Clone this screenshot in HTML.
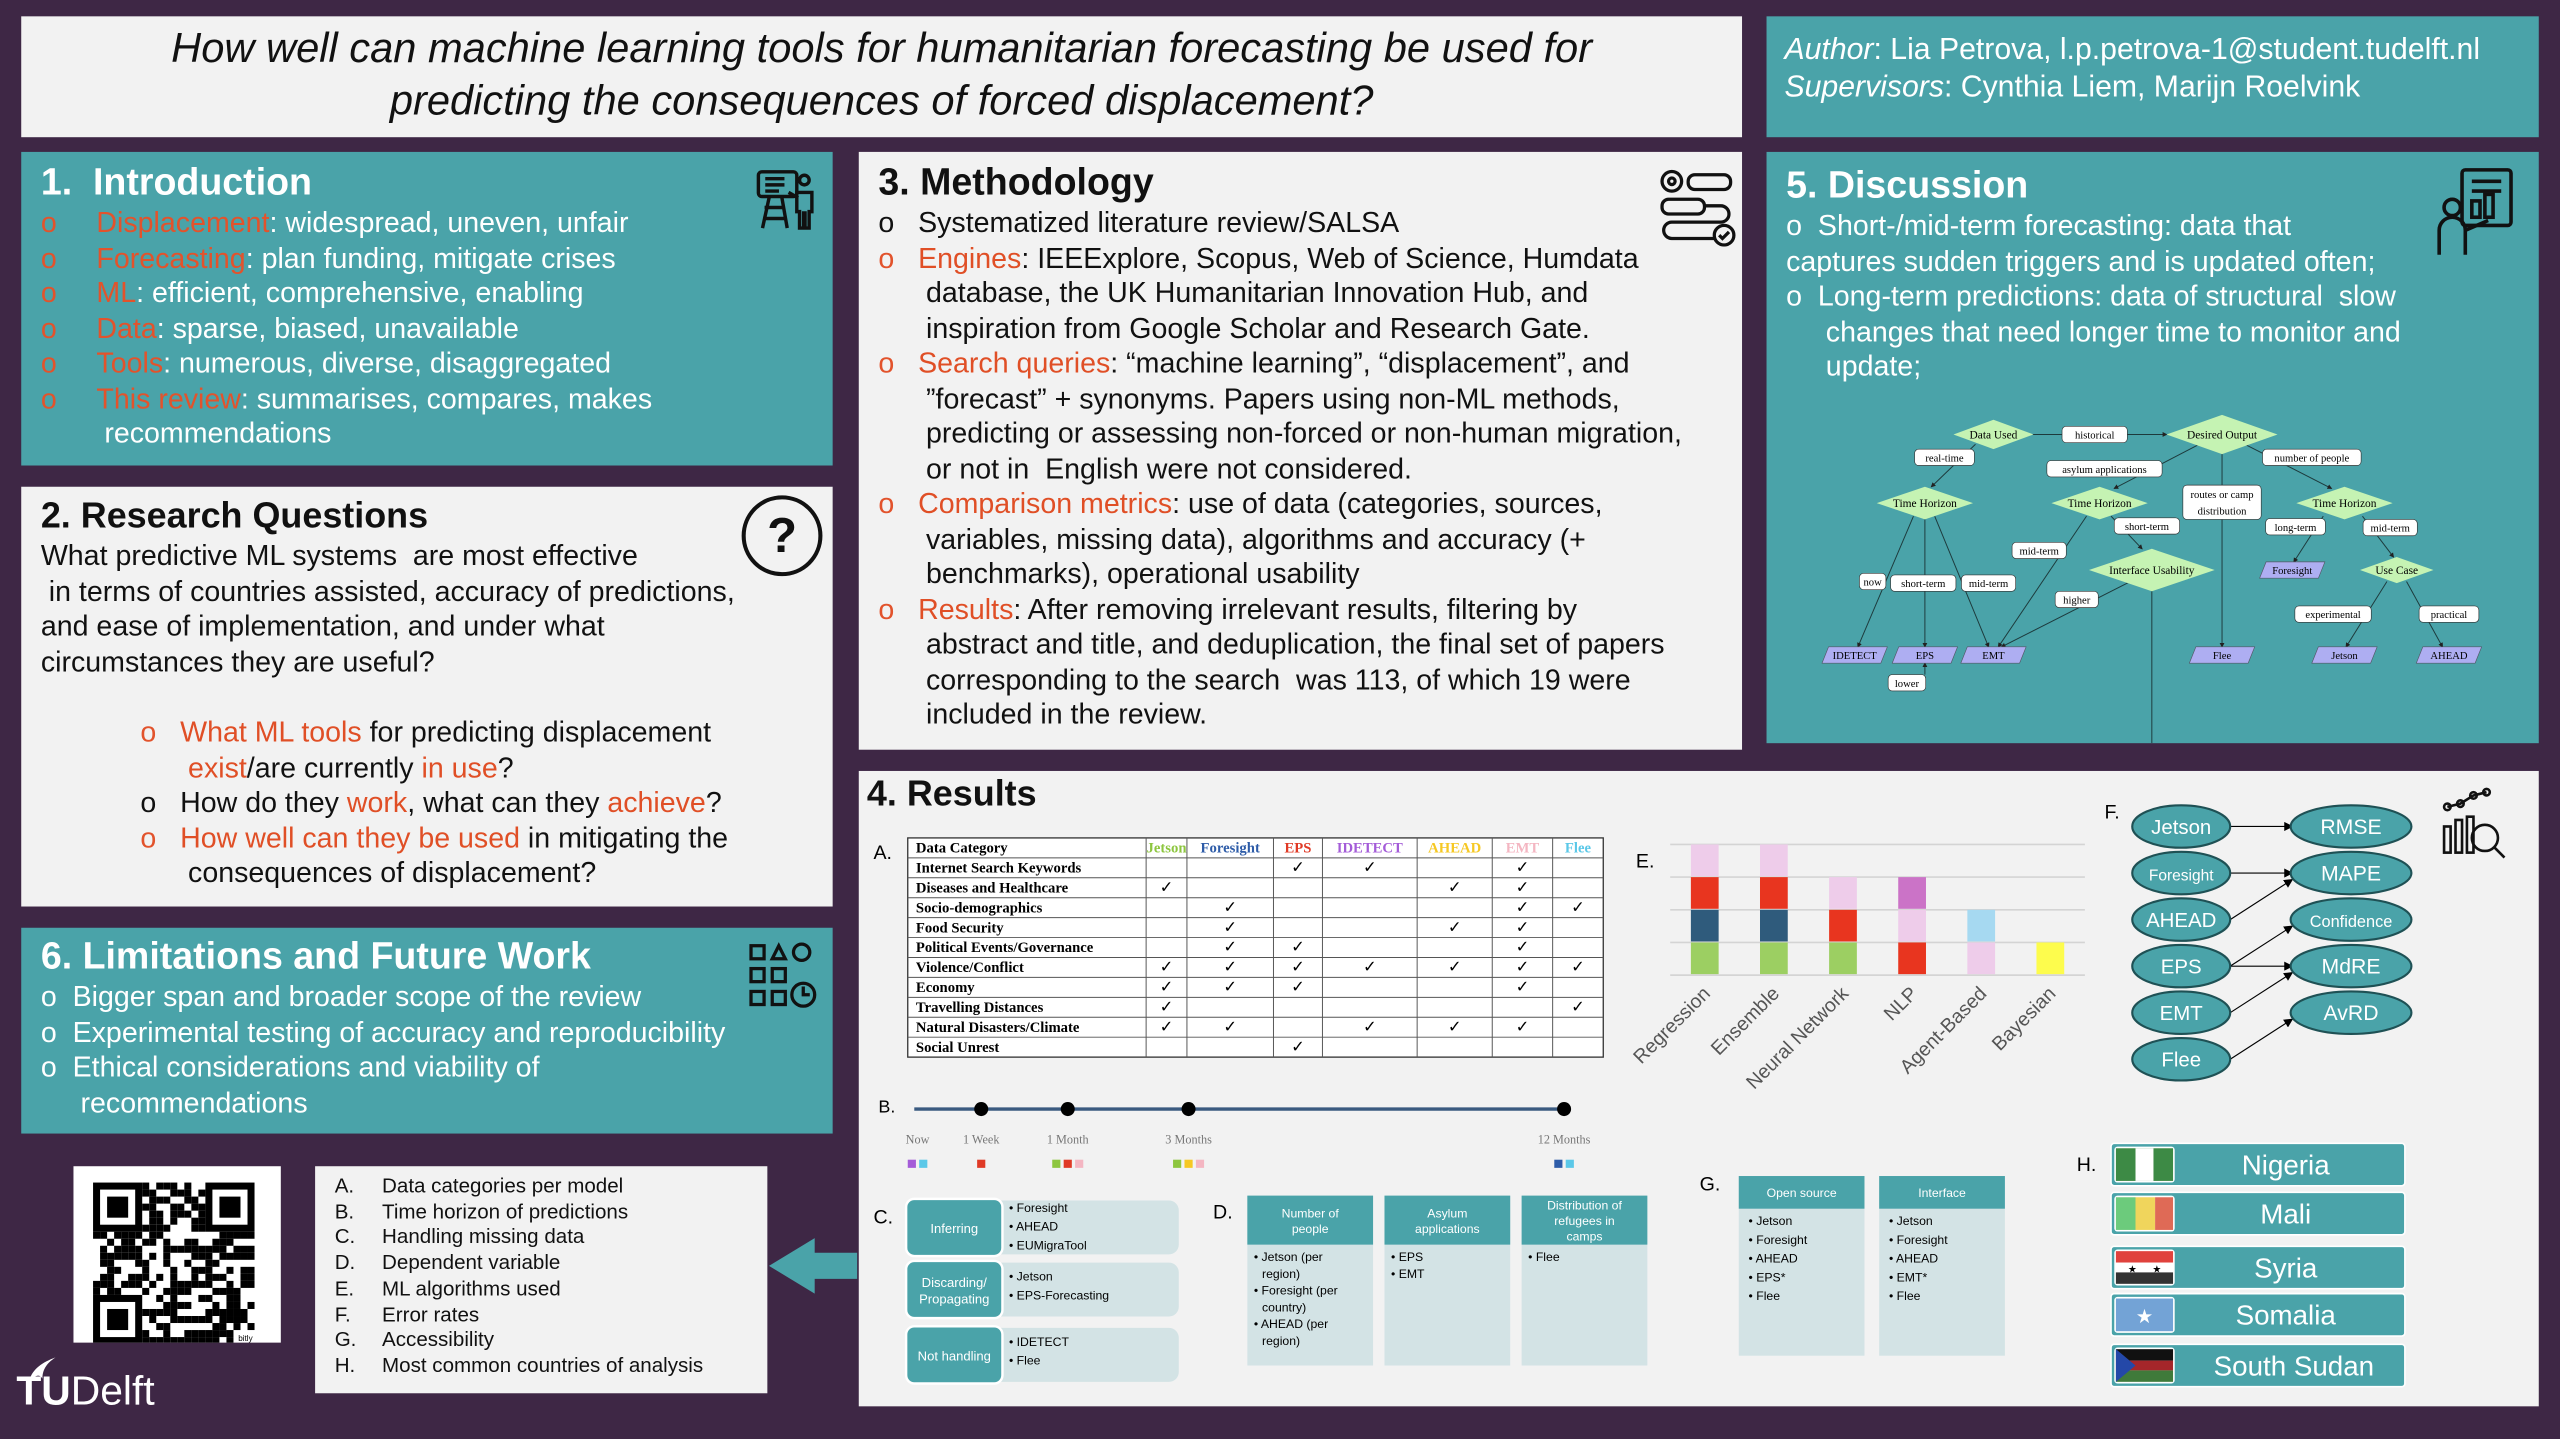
<!DOCTYPE html>
<html><head><meta charset="utf-8">
<style>
html,body{margin:0;padding:0;width:2560px;height:1439px;overflow:hidden;background:#3e2745;}
#s{position:absolute;left:0;top:0;width:1568px;height:881px;transform:scale(1.63265,1.63337);transform-origin:0 0;font-family:"Liberation Sans",sans-serif;}
.p{position:absolute;}
.teal{background:#4aa3a9;color:#fff;}
.light{background:#f2f2f2;color:#111;}
.h{position:absolute;font-weight:bold;white-space:nowrap;}
.t{position:absolute;white-space:nowrap;font-size:17.5px;line-height:21.5px;}
.o{color:#e2532c}
.k{color:#e2532c}
.ot{color:#e04f26}
</style></head><body>
<div id="s">

<div class="p light" style="left:13px;top:10px;width:1054px;height:74px;">
  <div style="position:absolute;left:0;top:4px;width:1054px;text-align:center;font-style:italic;font-size:25.5px;line-height:32px;">How well can machine learning tools for humanitarian forecasting be used for<br>predicting the consequences of forced displacement?</div>
</div>
<div class="p teal" style="left:1082px;top:10px;width:473px;height:74px;">
  <div style="position:absolute;left:11px;top:8px;font-size:18.5px;line-height:23px;white-space:nowrap;"><i>Author</i>: Lia Petrova, l.p.petrova-1@student.tudelft.nl<br><i>Supervisors</i>: Cynthia Liem, Marijn Roelvink</div>
</div>

<div class="p teal" style="left:13px;top:93px;width:497px;height:192px;">
  <div class="h" style="left:12px;top:5px;font-size:23px;">1.&nbsp; Introduction</div>
  <div class="t" style="left:12px;top:33px;">
    <span class="o">o</span>&nbsp;&nbsp;&nbsp;&nbsp;&nbsp;<span class="k">Displacement</span>: widespread, uneven, unfair<br>
    <span class="o">o</span>&nbsp;&nbsp;&nbsp;&nbsp;&nbsp;<span class="k">Forecasting</span>: plan funding, mitigate crises<br>
    <span class="o">o</span>&nbsp;&nbsp;&nbsp;&nbsp;&nbsp;<span class="k">ML</span>: efficient, comprehensive, enabling<br>
    <span class="o">o</span>&nbsp;&nbsp;&nbsp;&nbsp;&nbsp;<span class="k">Data</span>: sparse, biased, unavailable<br>
    <span class="o">o</span>&nbsp;&nbsp;&nbsp;&nbsp;&nbsp;<span class="k">Tools</span>: numerous, diverse, disaggregated<br>
    <span class="o">o</span>&nbsp;&nbsp;&nbsp;&nbsp;&nbsp;<span class="k">This review</span>: summarises, compares, makes<br>
    &nbsp;&nbsp;&nbsp;&nbsp;&nbsp;&nbsp;&nbsp;&nbsp;recommendations</div>
  <svg style="position:absolute;left:449px;top:8px" width="42" height="42" viewBox="0 0 100 100" fill="none" stroke="#111" stroke-width="5">
    <rect x="6" y="10" width="56" height="36" rx="5"/><line x1="16" y1="20" x2="44" y2="20"/><line x1="16" y1="29" x2="44" y2="29"/><line x1="16" y1="38" x2="36" y2="38"/>
    <line x1="22" y1="46" x2="12" y2="92"/><line x1="40" y1="46" x2="48" y2="92"/><line x1="15" y1="62" x2="44" y2="62"/><line x1="13" y1="78" x2="46" y2="78"/>
    <circle cx="73" cy="22" r="7"/><path d="M62 40h22v28h-4v24h-6v-22h-2v22h-6v-24h-4z"/><line x1="64" y1="48" x2="50" y2="40"/>
  </svg>
</div>

<div class="p light" style="left:13px;top:298px;width:497px;height:257px;">
  <div class="h" style="left:12px;top:5px;font-size:22px;">2. Research Questions</div>
  <div class="t" style="left:12px;top:32px;">What predictive ML systems&nbsp; are most effective<br>&nbsp;in terms of countries assisted, accuracy of predictions,<br>and ease of implementation, and under what<br>circumstances they are useful?</div>
  <div class="t" style="left:73px;top:140px;">
    <span class="o">o</span>&nbsp;&nbsp;&nbsp;<span class="ot">What ML tools</span> for predicting displacement<br>
    &nbsp;&nbsp;&nbsp;&nbsp;&nbsp;&nbsp;<span class="ot">exist</span>/are currently <span class="ot">in use</span>?<br>
    o&nbsp;&nbsp;&nbsp;How do they <span class="ot">work</span>, what can they <span class="ot">achieve</span>?<br>
    <span class="o">o</span>&nbsp;&nbsp;&nbsp;<span class="ot">How well can they be used</span> in mitigating the<br>
    &nbsp;&nbsp;&nbsp;&nbsp;&nbsp;&nbsp;consequences of displacement?</div>
  <svg style="position:absolute;left:440px;top:4px" width="52" height="52" viewBox="0 0 52 52">
    <circle cx="26" cy="26" r="23.5" fill="none" stroke="#111" stroke-width="2.5"/>
    <text x="26" y="36" text-anchor="middle" font-family="Liberation Sans" font-weight="bold" font-size="30" fill="#111">?</text>
  </svg>
</div>

<div class="p teal" style="left:13px;top:568px;width:497px;height:126px;">
  <div class="h" style="left:12px;top:4px;font-size:23px;">6. Limitations and Future Work</div>
  <div class="t" style="left:12px;top:32px;">o&nbsp;&nbsp;Bigger span and broader scope of the review<br>o&nbsp;&nbsp;Experimental testing of accuracy and reproducibility<br>o&nbsp;&nbsp;Ethical considerations and viability of<br>&nbsp;&nbsp;&nbsp;&nbsp;&nbsp;recommendations</div>
  <svg style="position:absolute;left:445px;top:8px" width="44" height="44" viewBox="0 0 44 44" fill="none" stroke="#111" stroke-width="2">
    <rect x="2" y="3" width="8" height="8"/><rect x="2" y="17" width="8" height="8"/><rect x="2" y="31" width="8" height="8"/><rect x="15" y="17" width="8" height="8"/>
    <path d="M15 11l4-8 4 8z"/><circle cx="33" cy="7" r="5"/><circle cx="34" cy="33" r="7"/><path d="M34 28v5h4"/><rect x="15" y="31" width="8" height="8"/>
  </svg>
</div>

<div class="p" style="left:45px;top:714px;width:127px;height:108px;background:#fff;">
  <svg id="qr" width="127" height="108"></svg>
</div>
<div class="p light" style="left:193px;top:714px;width:277px;height:139px;">
  <div style="position:absolute;left:12px;top:5px;font-size:12.6px;line-height:15.7px;white-space:nowrap;">
    <span style="display:inline-block;width:29px">A.</span>Data categories per model<br>
    <span style="display:inline-block;width:29px">B.</span>Time horizon of predictions<br>
    <span style="display:inline-block;width:29px">C.</span>Handling missing data<br>
    <span style="display:inline-block;width:29px">D.</span>Dependent variable<br>
    <span style="display:inline-block;width:29px">E.</span>ML algorithms used<br>
    <span style="display:inline-block;width:29px">F.</span>Error rates<br>
    <span style="display:inline-block;width:29px">G.</span>Accessibility<br>
    <span style="display:inline-block;width:29px">H.</span>Most common countries of analysis</div>
</div>
<svg class="p" style="left:465px;top:755px" width="65" height="40"><polygon points="6,20 34,3 34,12 60,12 60,28 34,28 34,37" fill="#4aa3a9"/></svg>
<div class="p" style="left:10px;top:832px;color:#fff;font-size:25px;line-height:40px;white-space:nowrap;"><b>TU</b>Delft</div>
<svg class="p" style="left:14px;top:830px" width="22" height="16"><path d="M4 15 C6 8 12 4 20 1 C14 5 12 9 12 14 C10 11 8 12 4 15z" fill="#fff"/></svg>

<div class="p light" style="left:526px;top:93px;width:541px;height:366px;">
  <div class="h" style="left:12px;top:5px;font-size:23px;">3. Methodology</div>
  <div class="t" style="left:12px;top:33px;">
    o&nbsp;&nbsp;&nbsp;Systematized literature review/SALSA<br>
    <span class="o">o</span>&nbsp;&nbsp;&nbsp;<span class="ot">Engines</span>: IEEExplore, Scopus, Web of Science, Humdata<br>
    &nbsp;&nbsp;&nbsp;&nbsp;&nbsp;&nbsp;database, the UK Humanitarian Innovation Hub, and<br>
    &nbsp;&nbsp;&nbsp;&nbsp;&nbsp;&nbsp;inspiration from Google Scholar and Research Gate.<br>
    <span class="o">o</span>&nbsp;&nbsp;&nbsp;<span class="ot">Search queries</span>: “machine learning”, “displacement”, and<br>
    &nbsp;&nbsp;&nbsp;&nbsp;&nbsp;&nbsp;”forecast” + synonyms. Papers using non-ML methods,<br>
    &nbsp;&nbsp;&nbsp;&nbsp;&nbsp;&nbsp;predicting or assessing non-forced or non-human migration,<br>
    &nbsp;&nbsp;&nbsp;&nbsp;&nbsp;&nbsp;or not in&nbsp; English were not considered.<br>
    <span class="o">o</span>&nbsp;&nbsp;&nbsp;<span class="ot">Comparison metrics</span>: use of data (categories, sources,<br>
    &nbsp;&nbsp;&nbsp;&nbsp;&nbsp;&nbsp;variables, missing data), algorithms and accuracy (+<br>
    &nbsp;&nbsp;&nbsp;&nbsp;&nbsp;&nbsp;benchmarks), operational usability<br>
    <span class="o">o</span>&nbsp;&nbsp;&nbsp;<span class="ot">Results</span>: After removing irrelevant results, filtering by<br>
    &nbsp;&nbsp;&nbsp;&nbsp;&nbsp;&nbsp;abstract and title, and deduplication, the final set of papers<br>
    &nbsp;&nbsp;&nbsp;&nbsp;&nbsp;&nbsp;corresponding to the search&nbsp; was 113, of which 19 were<br>
    &nbsp;&nbsp;&nbsp;&nbsp;&nbsp;&nbsp;included in the review.</div>
  <svg style="position:absolute;left:488px;top:8px" width="50" height="50" viewBox="0 0 50 50" fill="none" stroke="#111" stroke-width="2">
    <circle cx="10" cy="10" r="6"/><circle cx="10" cy="10" r="2"/><rect x="20" y="6" width="26" height="9" rx="4"/>
    <rect x="4" y="21" width="26" height="9" rx="4"/><path d="M30 25h10a5 5 0 0 1 0 10H10a5 5 0 0 0 0 10h26"/><circle cx="42" cy="43" r="6"/><path d="M39 43l2 2 4-4"/>
  </svg>
</div>

<div class="p teal" style="left:1082px;top:93px;width:473px;height:362px;">
  <div class="h" style="left:12px;top:7px;font-size:23px;">5. Discussion</div>
  <div class="t" style="left:12px;top:35px;">o&nbsp;&nbsp;Short-/mid-term forecasting: data that<br>captures sudden triggers and is updated often;<br>o&nbsp;&nbsp;Long-term predictions: data of structural&nbsp; slow<br>&nbsp;&nbsp;&nbsp;&nbsp;&nbsp;changes that need longer time to monitor and<br>&nbsp;&nbsp;&nbsp;&nbsp;&nbsp;update;</div>
  <svg style="position:absolute;left:408px;top:8px" width="56" height="56" viewBox="0 0 56 56" fill="none" stroke="#111" stroke-width="2.2">
    <rect x="18" y="3" width="30" height="34" rx="2"/><line x1="24" y1="10" x2="42" y2="10"/><line x1="24" y1="16" x2="42" y2="16"/><rect x="24" y="22" width="5" height="10"/><rect x="32" y="18" width="5" height="14"/>
    <circle cx="12" cy="26" r="5"/><path d="M4 55V40a8 8 0 0 1 16 0v15M20 40l14-6"/>
  </svg>
  <svg id="flow" style="position:absolute;left:0;top:0" width="473" height="362"></svg>
</div>

<div class="p light" style="left:526px;top:472px;width:1029px;height:389px;">
  <div class="h" style="left:5px;top:1px;font-size:22px;">4. Results</div>
</div>
<svg id="res" class="p" style="left:526px;top:472px" width="1029" height="389"></svg>

</div>
<script>
// ===== data: table A =====
const tableModels = ["Jetson","Foresight","EPS","IDETECT","AHEAD","EMT","Flee"];
const modelColors = ["#8dc63f","#2e5ca8","#e03a26","#a45cd8","#f6c823","#f4b6c2","#5bc8e8"];
const tableRows = ["Internet Search Keywords","Diseases and Healthcare","Socio-demographics","Food Security","Political Events/Governance","Violence/Conflict","Economy","Travelling Distances","Natural Disasters/Climate","Social Unrest"];
const tableChecks = [
 [0,0,1,1,0,1,0],[1,0,0,0,1,1,0],[0,1,0,0,0,1,1],[0,1,0,0,1,1,0],[0,1,1,0,0,1,0],
 [1,1,1,1,1,1,1],[1,1,1,0,0,1,0],[1,0,0,0,0,0,1],[1,1,0,1,1,1,0],[0,0,1,0,0,0,0]];
// ===== data: chart E =====
const algCategories = ["Regression","Ensemble","Neural Network","NLP","Agent-Based","Bayesian"];
const stackModels = ["Jetson","Foresight","EPS","AHEAD","EMT","IDETECT","Flee"];
const stackColors = ["#9ccf62","#2f5b7c","#e8351f","#fdfc4d","#eeccea","#cb73c7","#a6d9f1"];
const serJetson   = [1,1,1,0,0,0];
const serForesight= [1,1,0,0,0,0];
const serEPS      = [1,1,1,1,0,0];
const serAHEAD    = [0,0,0,0,0,1];
const serEMT      = [1,1,1,1,1,0];
const serIDETECT  = [0,0,0,1,0,0];
const serFlee     = [0,0,0,0,1,0];
const yTicks = [0,1,2,3,4];
// ===== data: timeline B =====
const horizonLabels = ["Now","1 Week","1 Month","3 Months","12 Months"];
const horizonMonths = [0,0.25,1,3,12];
const horizonModels = [["IDETECT","Flee"],["EPS"],["Jetson","EPS","EMT"],["Jetson","AHEAD","EMT"],["Foresight","Flee"]];

const NS="http://www.w3.org/2000/svg";
function el(tag,attrs,parent,txt){const e=document.createElementNS(NS,tag);for(const k in attrs)e.setAttribute(k,attrs[k]);if(txt!==undefined)e.textContent=txt;parent.appendChild(e);return e;}
const res=document.getElementById('res');
const OX=526,OY=472;

// ----- Table A -----
el('text',{x:535-OX,y:522-OY+4,'font-size':12,'font-family':'Liberation Sans'},res,'A.');
const colX=[556,702,727,780,810,868,914,951,982].map(v=>v-OX);
const tTop=513-OY, rowH=12.2;
el('rect',{x:colX[0],y:tTop,width:colX[8]-colX[0],height:rowH*11,fill:'#fff',stroke:'#333','stroke-width':0.8},res);
for(let r=1;r<11;r++){el('line',{x1:colX[0],x2:colX[8],y1:tTop+r*rowH,y2:tTop+r*rowH,stroke:'#555','stroke-width':0.6},res);}
for(let c=1;c<8;c++){el('line',{x1:colX[c],x2:colX[c],y1:tTop,y2:tTop+rowH*11,stroke:'#555','stroke-width':0.6},res);}
let hd=el('text',{x:colX[0]+5,y:tTop+9,'font-size':9,'font-weight':'bold','font-family':'Liberation Serif'},res,'Data Category');


tableModels.forEach((m,i)=>{const t=el('text',{x:(colX[i+1]+colX[i+2])/2,y:tTop+9,'text-anchor':'middle','font-size':9,'font-weight':'bold','font-family':'Liberation Serif',fill:modelColors[i]},res,m);
 
 });
tableRows.forEach((row,r)=>{const y=tTop+(r+1)*rowH+9;
 const t=el('text',{x:colX[0]+5,y:y,'font-size':9,'font-weight':'bold','font-family':'Liberation Serif'},res,row);
 
 
 tableChecks[r].forEach((v,c)=>{if(v){const ck=el('text',{x:(colX[c+1]+colX[c+2])/2,y:y,'text-anchor':'middle','font-size':10,'font-family':'DejaVu Sans'},res,'✓');
  
  }});});

// ----- Chart E -----
const eX0=1023-OX,eX1=1277-OX,eY0=597-OY,eY1=517-OY;
const yS=v=>eY0-(eY0-eY1)*v/4;
const band=(eX1-eX0)/algCategories.length;
const xS=i=>eX0+band*(i+0.5);
el('text',{x:1002-OX,y:531-OY,'font-size':12,'font-family':'Liberation Sans'},res,'E.');
yTicks.forEach(v=>{const g=el('line',{x1:eX0,x2:eX1,y1:yS(v),y2:yS(v),stroke:'#d4d4d4','stroke-width':1},res);
 
 });
const allSeries=[serJetson,serForesight,serEPS,serAHEAD,serEMT,serIDETECT,serFlee];
algCategories.forEach((cat,i)=>{let acc=0;
 allSeries.forEach((s,k)=>{const v=s[i];if(v>0){const b=el('rect',{x:xS(i)-8.5,y:yS(acc+v),width:17,height:yS(acc)-yS(acc+v)-0.6,fill:stackColors[k]},res);
  
  acc+=v;}});
 const lx=xS(i)+4,ly=eY0+12;
 const lab=el('text',{x:lx,y:ly,'text-anchor':'end','font-size':12,fill:'#555','font-family':'Liberation Sans',transform:`rotate(-45 ${lx} ${ly})`},res,cat);
 
 });

// ----- Timeline B -----
el('text',{x:538-OX,y:681-OY,'font-size':11,'font-family':'Liberation Sans'},res,'B.');
const tlX0=560-OX,tlYr=679-OY;
const tS=m=>m===0?tlX0:(m<=1? 601-OX+(m-0.25)/0.75*(654-601):(m<=3?654-OX+(m-1)/2*(728-654):728-OX+(m-3)/9*(958-728)));
el('line',{x1:tlX0,x2:tS(12),y1:tlYr,y2:tlYr,stroke:'#3a5a80','stroke-width':2},res);
horizonLabels.forEach((h,i)=>{const x=tS(horizonMonths[i]);
 if(i>0){const d=el('circle',{cx:x,cy:tlYr,r:4.3,fill:'#000'},res);
  
  }
 const lx=i===0?x+2:x;
 el('text',{x:lx,y:700-OY,'text-anchor':'middle','font-size':7.5,fill:'#777','font-family':'Liberation Serif'},res,h);
 const ms=horizonModels[i];ms.forEach((m,j)=>{const ci=tableModels.indexOf(m);
  const sq=el('rect',{x:lx-ms.length*3.5+j*7+1,y:710-OY,width:5,height:5,fill:modelColors[ci]},res);
  
  });});

// ----- C -----
el('text',{x:535-OX,y:749-OY,'font-size':12,'font-family':'Liberation Sans'},res,'C.');
const cGroups=[["Inferring",["Foresight","AHEAD","EUMigraTool"],735],["Discarding/|Propagating",["Jetson","EPS-Forecasting"],773],["Not handling",["IDETECT","Flee"],813]];
cGroups.forEach(g=>{const y=g[2]-OY;
 el('rect',{x:600-OX,y:y,width:122,height:33,rx:6,fill:'#d3e3e5'},res);
 const b=el('rect',{x:555-OX,y:y-1,width:59,height:35,rx:5,fill:'#4aa3a9',stroke:'#fff','stroke-width':1.5},res);
 
 
 const parts=g[0].split('|');parts.forEach((p,k)=>el('text',{x:584.5-OX,y:y+17+(k-(parts.length-1)/2)*10+3,'text-anchor':'middle','font-size':8,fill:'#fff','font-family':'Liberation Sans'},res,p));
 g[1].forEach((it,k)=>el('text',{x:618-OX,y:y+7+k*11.5-(g[1].length===2?-4:0),'font-size':7.5,'font-family':'Liberation Sans'},res,'• '+it));});

// ----- D -----
el('text',{x:743-OX,y:746-OY,'font-size':12,'font-family':'Liberation Sans'},res,'D.');
const dCols=[[764,["Number of","people"],["Jetson (per","region)","Foresight (per","country)","AHEAD (per","region)"]],[848,["Asylum","applications"],["EPS","EMT"]],[932,["Distribution of","refugees in","camps"],["Flee"]]];
dCols.forEach(c=>{const x=c[0]-OX;
 el('rect',{x:x,y:732-OY,width:77,height:104,fill:'#d3e3e5'},res);
 const hb=el('rect',{x:x,y:732-OY,width:77,height:30,fill:'#4aa3a9'},res);
 
 
 c[1].forEach((t,k)=>el('text',{x:x+38.5,y:747-OY+(k-(c[1].length-1)/2)*9.5+3,'text-anchor':'middle','font-size':7.5,fill:'#fff','font-family':'Liberation Sans'},res,t));
 c[2].forEach((t,k)=>{const first=(k%2===0)||c[2].length<=2;el('text',{x:x+(first?4:9),y:772-OY+k*10.3,'font-size':7.5,'font-family':'Liberation Sans'},res,(first?'• ':'')+t);});});

// ----- G -----
el('text',{x:1041-OX,y:729-OY,'font-size':12,'font-family':'Liberation Sans'},res,'G.');
const gCols=[[1065,"Open source",["Jetson","Foresight","AHEAD","EPS*","Flee"]],[1151,"Interface",["Jetson","Foresight","AHEAD","EMT*","Flee"]]];
gCols.forEach(c=>{const x=c[0]-OX;
 el('rect',{x:x,y:720-OY,width:77,height:110,fill:'#d3e3e5'},res);
 const hb=el('rect',{x:x,y:720-OY,width:77,height:20,fill:'#4aa3a9'},res);
 
 
 el('text',{x:x+38.5,y:733-OY,'text-anchor':'middle','font-size':7.5,fill:'#fff','font-family':'Liberation Sans'},res,c[1]);
 c[2].forEach((t,k)=>el('text',{x:x+6,y:750-OY+k*11.5,'font-size':7.5,'font-family':'Liberation Sans'},res,'•  '+t));});

// ----- F -----
el('text',{x:1289-OX,y:501-OY,'font-size':12,'font-family':'Liberation Sans'},res,'F.');
const fLeft=["Jetson","Foresight","AHEAD","EPS","EMT","Flee"];
const fRight=["RMSE","MAPE","Confidence","MdRE","AvRD"];
const fLinks=[[0,0],[1,1],[2,1],[3,2],[3,3],[4,3],[5,4]];
const fy=i=>506-OY+i*28.5;
const defs=el('defs',{},res);const mk=el('marker',{id:'ah',markerWidth:8,markerHeight:8,refX:7,refY:4,orient:'auto'},defs);el('path',{d:'M0,0L8,4L0,8z',fill:'#000'},mk);
fLinks.forEach(l=>{el('line',{x1:1366-OX,y1:fy(l[0]),x2:1404-OX,y2:fy(l[1])+(l[0]===l[1]?0:4),stroke:'#000','stroke-width':0.7,'marker-end':'url(#ah)'},res);});
fLeft.forEach((t,i)=>{const e=el('ellipse',{cx:1336-OX,cy:fy(i),rx:30,ry:13,fill:'#4aa3a9',stroke:'#1f5155','stroke-width':1.3},res);
 
 
 el('text',{x:1336-OX,y:fy(i)+4.5,'text-anchor':'middle','font-size':t.length>6?9.5:12.5,fill:'#fff','font-family':'Liberation Sans'},res,t);});
fRight.forEach((t,i)=>{const e=el('ellipse',{cx:1440-OX,cy:fy(i),rx:37,ry:13,fill:'#4aa3a9',stroke:'#1f5155','stroke-width':1.3},res);
 
 
 el('text',{x:1440-OX,y:fy(i)+4.5,'text-anchor':'middle','font-size':t.length>6?10:13,fill:'#fff','font-family':'Liberation Sans'},res,t);});
const ic=el('g',{fill:'none',stroke:'#111','stroke-width':1.6,transform:`translate(${1495-OX},${482-OY})`},res);


el('path',{d:'M4 12L12 10L20 5L28 3',stroke:'#111'},ic);[4,12,20,28].forEach((x,i)=>el('circle',{cx:x,cy:[12,10,5,3][i],r:2},ic));
el('rect',{x:2,y:24,width:4,height:16},ic);el('rect',{x:9,y:20,width:4,height:20},ic);el('rect',{x:16,y:18,width:4,height:22},ic);
el('circle',{cx:27,cy:31,r:8},ic);el('line',{x1:33,y1:37,x2:39,y2:43},ic);

// ----- H -----
el('text',{x:1272-OX,y:717-OY,'font-size':12,'font-family':'Liberation Sans'},res,'H.');
const countries=["Nigeria","Mali","Syria","Somalia","South Sudan"];
const cy=[700,730,763,792,823];
countries.forEach((c,i)=>{const y=cy[i]-OY;
 const r=el('rect',{x:1293-OX,y:y,width:180,height:26,rx:2,fill:'#4aa3a9',stroke:'#fff','stroke-width':1},res);
 
 
 el('text',{x:1405-OX+(i===4?0:-5),y:y+19,'text-anchor':'middle','font-size':17,fill:'#fff','font-family':'Liberation Sans'},res,c);
 const fx=1296-OX,fyy=y+3,fw=35,fh=20;
 el('rect',{x:fx-1,y:fyy-1,width:fw+2,height:fh+2,fill:'#fff',rx:2},res);
 if(i===0){el('rect',{x:fx,y:fyy,width:fw,height:fh,fill:'#3d8a45'},res);el('rect',{x:fx+12,y:fyy,width:11,height:fh,fill:'#fff'},res);}
 if(i===1){el('rect',{x:fx,y:fyy,width:12,height:fh,fill:'#6ccb7c'},res);el('rect',{x:fx+12,y:fyy,width:12,height:fh,fill:'#f0d55c'},res);el('rect',{x:fx+24,y:fyy,width:11,height:fh,fill:'#df6a56'},res);}
 if(i===2){el('rect',{x:fx,y:fyy,width:fw,height:7,fill:'#e0423d'},res);el('rect',{x:fx,y:fyy+7,width:fw,height:6,fill:'#fff'},res);el('rect',{x:fx,y:fyy+13,width:fw,height:7,fill:'#333'},res);
  el('text',{x:fx+10,y:fyy+13,'font-size':6,'text-anchor':'middle'},res,'★');el('text',{x:fx+25,y:fyy+13,'font-size':6,'text-anchor':'middle'},res,'★');}
 if(i===3){el('rect',{x:fx,y:fyy,width:fw,height:fh,fill:'#73a3d6'},res);el('text',{x:fx+17.5,y:fyy+15,'font-size':12,fill:'#fff','text-anchor':'middle'},res,'★');}
 if(i===4){el('rect',{x:fx,y:fyy,width:fw,height:7,fill:'#111'},res);el('rect',{x:fx,y:fyy+7,width:fw,height:6,fill:'#a5262a'},res);el('rect',{x:fx,y:fyy+13,width:fw,height:7,fill:'#3f7a3a'},res);
  el('polygon',{points:`${fx},${fyy} ${fx+12},${fyy+10} ${fx},${fyy+20}`,fill:'#2448a8'},res);}
});

// ----- discussion flow diagram -----
const flow=document.getElementById('flow');const DX=1082,DY=93;
const fdefs=el('defs',{},flow);const m2=el('marker',{id:'ah2',markerWidth:5,markerHeight:5,refX:4,refY:2.5,orient:'auto'},fdefs);el('path',{d:'M0,0L5,2.5L0,5z',fill:'#222'},m2);
const L=(a,b,c,d,noArrow)=>{const at={x1:a-DX,y1:b-DY,x2:c-DX,y2:d-DY,stroke:'#1d3a3c','stroke-width':0.6};if(!noArrow)at['marker-end']='url(#ah2)';el('line',at,flow);};
L(1245,266,1327,266);L(1210,272,1183,298);L(1347,272,1295,299);L(1375,272,1428,299);L(1361,278,1361,396);
L(1172,316,1138,396);L(1179,318,1179,396);L(1185,316,1218,396);L(1278,316,1224,396);L(1293,316,1312,336);L(1305,356,1226,396);
L(1318,362,1318,455,true);
L(1423,316,1405,344);L(1447,316,1466,341);L(1462,356,1437,396);L(1474,356,1496,396);L(1179,413,1179,406);
const diam=(x,y,w,h,t)=>{const g=el('polygon',{points:`${x-DX-w/2},${y-DY} ${x-DX},${y-DY-h/2} ${x-DX+w/2},${y-DY} ${x-DX},${y-DY+h/2}`,fill:'#c5f3b3'},flow);
 
 
 el('text',{x:x-DX,y:y-DY+2.5,'text-anchor':'middle','font-size':7,'font-family':'Liberation Serif'},flow,t);};
const lbl=(x,y,t,w)=>{w=w||t.length*3.4+6;el('rect',{x:x-DX-w/2,y:y-DY-5,width:w,height:10,rx:2.5,fill:'#fff',stroke:'#333','stroke-width':0.4},flow);
 el('text',{x:x-DX,y:y-DY+2.5,'text-anchor':'middle','font-size':6.5,'font-family':'Liberation Serif'},flow,t);};
const para=(x,y,t)=>{const g=el('polygon',{points:`${x-DX-20},${y-DY+5} ${x-DX-16},${y-DY-5} ${x-DX+20},${y-DY-5} ${x-DX+16},${y-DY+5}`,fill:'#aeaef2',stroke:'#556','stroke-width':0.4},flow);
 
 
 el('text',{x:x-DX,y:y-DY+2.5,'text-anchor':'middle','font-size':6.5,'font-family':'Liberation Serif'},flow,t);};
diam(1221,266,49,18,'Data Used');diam(1361,266,68,24,'Desired Output');
diam(1179,308,59,20,'Time Horizon');diam(1286,308,59,20,'Time Horizon');diam(1436,308,59,20,'Time Horizon');
diam(1318,349,77,26,'Interface Usability');diam(1468,349,45,16,'Use Case');
lbl(1283,266,'historical');lbl(1191,280,'real-time');lbl(1289,287,'asylum applications');lbl(1416,280,'number of people');
el('rect',{x:1337-DX,y:297-DY,width:48,height:21,rx:2.5,fill:'#fff',stroke:'#333','stroke-width':0.4},flow);
el('text',{x:1361-DX,y:305-DY,'text-anchor':'middle','font-size':6.5,'font-family':'Liberation Serif'},flow,'routes or camp');
el('text',{x:1361-DX,y:315-DY,'text-anchor':'middle','font-size':6.5,'font-family':'Liberation Serif'},flow,'distribution');
lbl(1315,322,'short-term');lbl(1406,322.5,'long-term');lbl(1464,323,'mid-term');lbl(1249,337,'mid-term');
lbl(1147,356,'now');lbl(1178,357,'short-term');lbl(1218,357,'mid-term');lbl(1272,367,'higher');
lbl(1429,376,'experimental');lbl(1500,376,'practical');lbl(1168,418,'lower');
para(1404,349,'Foresight');
[['IDETECT',1136],['EPS',1179],['EMT',1221],['Flee',1361],['Jetson',1436],['AHEAD',1500]].forEach(p=>para(p[1],401,p[0]));

// ----- QR decoration -----
const qr=document.getElementById('qr');let seed=7;const rnd=()=>{seed=(seed*9301+49297)%233280;return seed/233280;};
const qs=4.3,qx=12,qy=10,n=23;
for(let r=0;r<n;r++)for(let c=0;c<n;c++){const inF=(r<7&&c<7)||(r<7&&c>=n-7)||(r>=n-7&&c<7);if(inF)continue;if(rnd()<0.5)el('rect',{x:qx+c*qs,y:qy+r*qs,width:qs,height:qs,fill:'#000'},qr);}
[[0,0],[0,n-7],[n-7,0]].forEach(p=>{const x=qx+p[1]*qs,y=qy+p[0]*qs;el('rect',{x:x,y:y,width:7*qs,height:7*qs,fill:'#000'},qr);el('rect',{x:x+qs,y:y+qs,width:5*qs,height:5*qs,fill:'#fff'},qr);el('rect',{x:x+2*qs,y:y+2*qs,width:3*qs,height:3*qs,fill:'#000'},qr);});
el('text',{x:qx+n*qs-10,y:qy+n*qs-2,'font-size':5,fill:'#000'},qr,'bitly');
</script>
</body></html>
